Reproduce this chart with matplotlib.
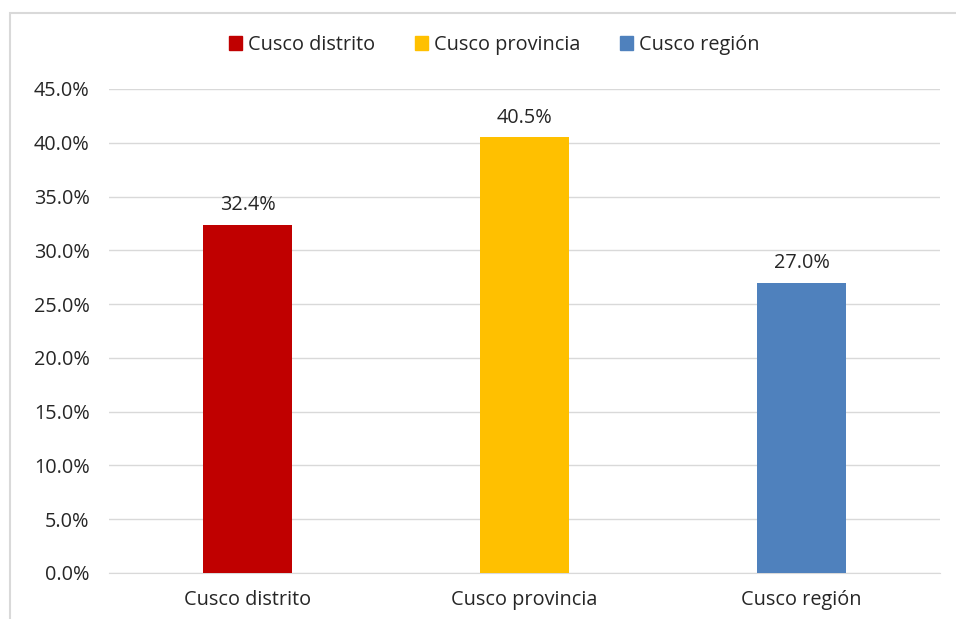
import matplotlib
matplotlib.use("Agg")
import matplotlib.pyplot as plt
from matplotlib.patches import Rectangle, Patch
from matplotlib.ticker import FuncFormatter, MultipleLocator

categories = ["Cusco distrito", "Cusco provincia", "Cusco región"]
values = [32.4, 40.5, 27.0]
colors = ["#C00000", "#FFC000", "#4F81BD"]

plt.rcParams['font.family'] = ['Open Sans', 'DejaVu Sans']
FS = 14.3
TC = "#262626"

fig = plt.figure(figsize=(9.56, 6.19), dpi=100)
fig.patches.append(Rectangle((10/956, -0.1), 1.2, 1 - 13/619 + 0.1, transform=fig.transFigure,
                             fill=False, edgecolor="#D9D9D9", linewidth=1.5, zorder=0))
ax = fig.add_axes([109/956, 1 - 573/619, (940 - 109)/956, (573 - 89)/619])

x = range(len(categories))
bars = ax.bar(x, values, width=0.32, color=colors, zorder=3)
for xi, v in zip(x, values):
    ax.annotate(f"{v:.1f}%", (xi, v), xytext=(0, 7), textcoords="offset points",
                ha="center", va="bottom", fontsize=FS, color=TC)

ax.set_xlim(-0.5, 2.5)
ax.set_ylim(0, 45)
ax.yaxis.set_major_locator(MultipleLocator(5))
ax.yaxis.set_major_formatter(FuncFormatter(lambda v, p: f"{v:.1f}%"))
ax.set_xticks(list(x))
ax.set_xticklabels(categories)
ax.grid(axis="y", color="#D9D9D9", linewidth=1, zorder=0)
for s in ["top", "right", "left"]:
    ax.spines[s].set_visible(False)
ax.spines["bottom"].set_color("#D9D9D9")
ax.tick_params(axis="both", length=0, labelsize=FS, colors=TC)
ax.tick_params(axis="y", pad=14)
ax.tick_params(axis="x", pad=12)

handles = [Patch(color=c, label=l) for c, l in zip(colors, categories)]
fig.legend(handles=handles, loc="center", bbox_to_anchor=(494/956, 1 - 45/619), ncol=3,
           frameon=False, fontsize=FS, handlelength=0.65, handleheight=0.65,
           handletextpad=0.3, columnspacing=2.0, labelcolor=TC)

fig.savefig("out.png", dpi=100)
